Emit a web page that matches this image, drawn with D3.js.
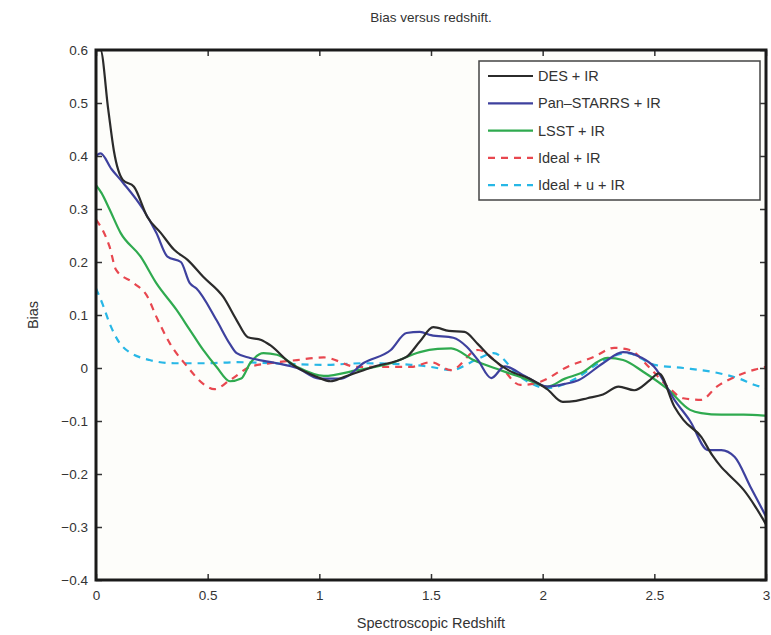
<!DOCTYPE html>
<html><head><meta charset="utf-8">
<script src="https://cdn.jsdelivr.net/npm/d3@7"></script>
<style>body{margin:0;background:#fff;}svg{display:block;font-family:"Liberation Sans",Arial,sans-serif;}</style>
</head><body><svg id="c" width="771" height="635"></svg>
<script>
const title = "Bias versus redshift.";
const xLabel = "Spectroscopic Redshift";
const yLabel = "Bias";
const xTicks = [0, 0.5, 1, 1.5, 2, 2.5, 3];
const yTicks = [-0.4, -0.3, -0.2, -0.1, 0, 0.1, 0.2, 0.3, 0.4, 0.5, 0.6];
const seriesNames = ["DES + IR", "Pan\u2013STARRS + IR", "LSST + IR", "Ideal + IR", "Ideal + u + IR"];

const desZ = [0,0.02,0.055,0.08,0.12,0.17,0.23,0.29,0.35,0.41,0.48,0.57,0.63,0.68,0.74,0.78,0.87,0.99,1.05,1.11,1.24,1.39,1.45,1.51,1.58,1.65,1.71,1.77,1.85,1.94,2.02,2.09,2.15,2.2,2.27,2.34,2.41,2.48,2.52,2.59,2.63,2.71,2.76,2.8,2.83,2.9,2.95,3.0];
const desB = [0.6,0.6,0.487,0.41,0.355,0.342,0.285,0.255,0.223,0.204,0.172,0.134,0.09,0.058,0.053,0.043,0.009,-0.017,-0.025,-0.017,0.002,0.021,0.05,0.077,0.07,0.068,0.045,0.019,-0.005,-0.02,-0.04,-0.064,-0.062,-0.057,-0.05,-0.035,-0.042,-0.023,-0.01,-0.073,-0.098,-0.13,-0.165,-0.187,-0.2,-0.23,-0.26,-0.295];

const panZ = [0,0.02,0.07,0.12,0.21,0.27,0.32,0.38,0.42,0.45,0.54,0.6,0.63,0.69,0.81,0.9,1.0,1.1,1.2,1.32,1.39,1.45,1.5,1.6,1.66,1.71,1.77,1.83,1.92,2.02,2.1,2.16,2.27,2.36,2.44,2.5,2.59,2.66,2.74,2.8,2.86,2.93,3.0];
const panB = [0.4,0.405,0.375,0.35,0.30,0.255,0.21,0.20,0.16,0.15,0.09,0.045,0.028,0.019,0.009,0.0,-0.02,-0.02,0.01,0.034,0.066,0.068,0.062,0.057,0.04,0.015,-0.019,0.003,-0.015,-0.035,-0.03,-0.023,0.009,0.03,0.02,0.002,-0.06,-0.1,-0.155,-0.155,-0.168,-0.224,-0.28];

const lsstZ = [0,0.025,0.06,0.11,0.2,0.27,0.36,0.42,0.48,0.54,0.6,0.65,0.69,0.75,0.81,0.9,1.02,1.17,1.32,1.45,1.53,1.59,1.69,1.81,1.92,2.02,2.1,2.17,2.29,2.36,2.45,2.56,2.66,2.71,2.8,2.9,3.0];
const lsstB = [0.345,0.33,0.30,0.255,0.21,0.16,0.11,0.072,0.034,0.002,-0.025,-0.02,0.009,0.028,0.025,0.002,-0.015,-0.004,0.009,0.03,0.036,0.037,0.015,-0.004,-0.02,-0.035,-0.02,-0.01,0.019,0.015,-0.007,-0.04,-0.079,-0.085,-0.088,-0.088,-0.09];

const idealZ = [0,0.03,0.06,0.09,0.17,0.23,0.27,0.33,0.41,0.48,0.53,0.6,0.69,0.78,0.9,1.02,1.17,1.32,1.41,1.5,1.59,1.71,1.8,1.9,1.99,2.11,2.23,2.32,2.39,2.48,2.56,2.63,2.71,2.78,2.86,2.95,3.0];
const idealB = [0.28,0.26,0.23,0.185,0.16,0.135,0.097,0.047,0.002,-0.03,-0.04,-0.023,0.002,0.009,0.015,0.02,0.002,0.002,0.002,0.011,-0.004,0.034,0.009,-0.032,-0.026,0.002,0.021,0.038,0.034,0.0,-0.035,-0.057,-0.06,-0.035,-0.017,-0.003,0.002];

const idealUZ = [0,0.03,0.06,0.12,0.24,0.35,0.5,0.63,0.78,1.02,1.2,1.41,1.5,1.59,1.7,1.78,1.9,2.02,2.16,2.25,2.38,2.5,2.63,2.78,2.88,2.95,3.0];
const idealUB = [0.15,0.12,0.085,0.04,0.015,0.009,0.009,0.011,0.009,0.006,0.009,0.006,0.002,-0.004,0.015,0.028,-0.017,-0.038,-0.017,0.009,0.028,0.006,0.0,-0.009,-0.02,-0.032,-0.038];

const colors = ["#2b2b2b", "#3e419e", "#2faa4f", "#e8474f", "#27b7e6"];
const dashes = [null, null, null, "7,6", "7,6"];

const svg = d3.select("#c");
const m = {l: 96, r: 766, t: 50, b: 580};
const x = d3.scaleLinear().domain([0, 3]).range([m.l, m.r]);
const y = d3.scaleLinear().domain([-0.4, 0.6]).range([m.b, m.t]);

svg.append("rect").attr("x", m.l).attr("y", m.t).attr("width", m.r - m.l).attr("height", m.b - m.t).attr("fill", "#fdfdfa");

const fmt = d => d === 0 ? "0" : d3.format("")(d).replace("-", "\u2212");
const tc = "#333";
const axB = svg.append("g").attr("transform", `translate(0,${m.b})`).call(d3.axisBottom(x).tickValues(xTicks).tickSize(-6).tickPadding(10).tickFormat(fmt));
const axT = svg.append("g").attr("transform", `translate(0,${m.t})`).call(d3.axisTop(x).tickValues(xTicks).tickSize(-6).tickFormat(""));
const axL = svg.append("g").attr("transform", `translate(${m.l},0)`).call(d3.axisLeft(y).tickValues(yTicks).tickSize(-6).tickPadding(8).tickFormat(fmt));
const axR = svg.append("g").attr("transform", `translate(${m.r},0)`).call(d3.axisRight(y).tickValues(yTicks).tickSize(-6).tickFormat(""));
[axB, axT, axL, axR].forEach(a => {
  a.select(".domain").remove();
  a.selectAll(".tick line").attr("stroke", "#333").attr("stroke-width", 1.5);
  a.selectAll("text").attr("fill", tc).style("font-size", "13.5px");
});

const series = [[desZ, desB], [panZ, panB], [lsstZ, lsstB], [idealZ, idealB], [idealUZ, idealUB]];
const line = d3.line().x(d => x(d[0])).y(d => y(d[1])).curve(d3.curveMonotoneX);
svg.append("clipPath").attr("id", "pc").append("rect").attr("x", m.l).attr("y", m.t).attr("width", m.r - m.l).attr("height", m.b - m.t);
const order = [4, 3, 2, 1, 0];
order.forEach(i => {
  const [zs, bs] = series[i];
  svg.append("path").datum(zs.map((z, k) => [z, bs[k]]))
    .attr("d", line).attr("fill", "none").attr("stroke", colors[i]).attr("stroke-width", 2.2)
    .attr("stroke-dasharray", dashes[i]).attr("clip-path", "url(#pc)");
});

svg.append("rect").attr("x", m.l).attr("y", m.t).attr("width", m.r - m.l).attr("height", m.b - m.t)
  .attr("fill", "none").attr("stroke", "#1a1a1a").attr("stroke-width", 3);

const lg = svg.append("g");
lg.append("rect").attr("x", 479).attr("y", 61).attr("width", 281).attr("height", 139).attr("fill", "#fff").attr("stroke", "#444").attr("stroke-width", 1.5);
seriesNames.forEach((n, i) => {
  const yy = 76 + i * 27.3;
  lg.append("line").attr("x1", 488).attr("x2", 533).attr("y1", yy).attr("y2", yy).attr("stroke", colors[i]).attr("stroke-width", 2.2).attr("stroke-dasharray", dashes[i]);
  lg.append("text").attr("x", 538).attr("y", yy + 5).text(n).attr("fill", tc).style("font-size", "14.5px");
});

svg.append("text").attr("x", 431).attr("y", 22).attr("text-anchor", "middle").text(title).attr("fill", tc).style("font-size", "13.5px");
svg.append("text").attr("x", 431).attr("y", 628).attr("text-anchor", "middle").text(xLabel).attr("fill", tc).style("font-size", "14.5px");
svg.append("text").attr("transform", "translate(38,315) rotate(-90)").attr("text-anchor", "middle").text(yLabel).attr("fill", tc).style("font-size", "14.5px");
</script></body></html>
